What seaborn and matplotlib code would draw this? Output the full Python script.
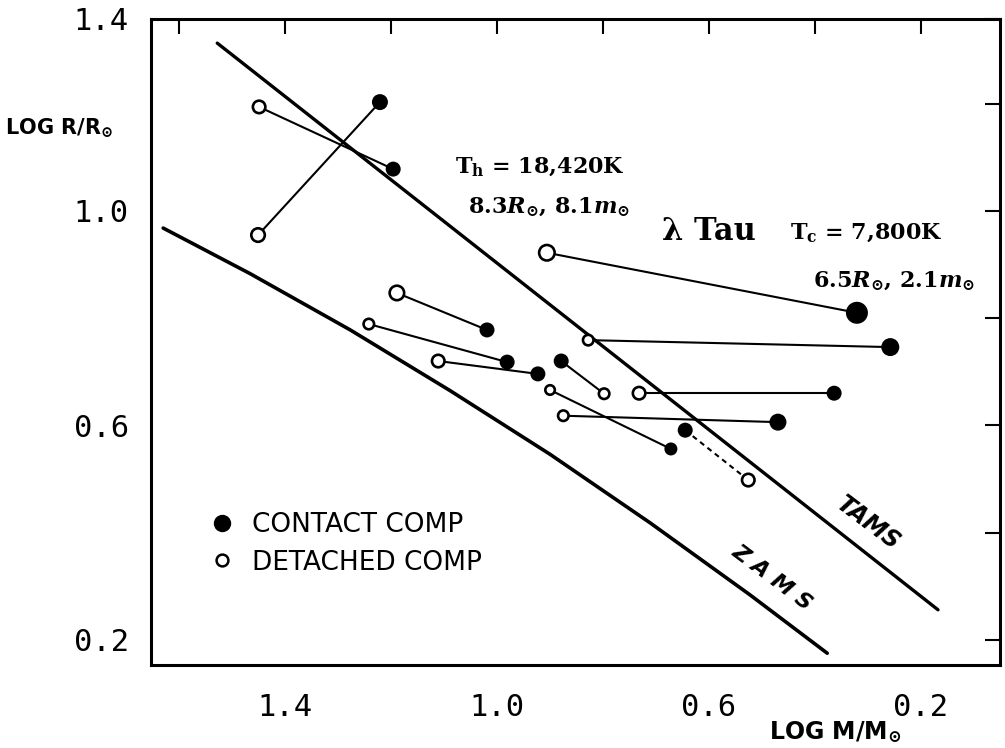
import matplotlib
matplotlib.use("Agg")
import matplotlib.pyplot as plt
from matplotlib.lines import Line2D
import numpy as np
import pandas as pd
import seaborn as sns

# ---------------- data ----------------
detached_logm = [1.449, 1.451, 0.906, 0.828, 0.732, 0.875, 0.900, 0.798, 0.526, 1.189, 1.242, 1.111]
detached_logr = [1.194, 0.955, 0.922, 0.759, 0.660, 0.618, 0.666, 0.659, 0.498, 0.847, 0.789, 0.720]
contact_logm = [1.196, 1.221, 0.321, 0.258, 0.364, 0.470, 0.672, 0.879, 0.645, 1.019, 0.981, 0.923]
contact_logr = [1.078, 1.203, 0.810, 0.746, 0.660, 0.606, 0.556, 0.720, 0.591, 0.778, 0.718, 0.696]
pair_kind = ["solid"] * 8 + ["dashed"] + ["solid"] * 3

zams_logm = [1.630, 1.466, 1.277, 1.089, 0.900, 0.711, 0.523, 0.377]
zams_logr = [0.968, 0.883, 0.778, 0.665, 0.546, 0.418, 0.284, 0.175]
tams_logm = [1.528, 0.168]
tams_logr = [1.313, 0.256]

xtick_values = [1.6, 1.4, 1.2, 1.0, 0.8, 0.6, 0.4, 0.2]
xtick_labels = ["", "1.4", "", "1.0", "", "0.6", "", "0.2"]
ylim = (0.153, 1.358)
ytick_values = [0.2, 0.4, 0.6, 0.8, 1.0, 1.2, ylim[1]]
ytick_labels = ["0.2", "", "0.6", "", "1.0", "", "1.4"]
xlim = (1.653, 0.051)

# ---------------- styles ----------------
contact_px = [15, 16, 22, 18, 15, 17, 13, 15, 15, 15, 15, 15]
detached_px = [15, 16, 18, 13, 15, 13, 12, 13, 15, 17, 13, 15]

sns.set_style("white")
plt.rcParams["mathtext.fontset"] = "custom"
plt.rcParams["mathtext.rm"] = "DejaVu Serif:bold"
plt.rcParams["mathtext.it"] = "DejaVu Serif:italic:bold"
plt.rcParams["mathtext.bf"] = "DejaVu Serif:bold"
plt.rcParams["font.family"] = ["DejaVu Sans"]
for k in ["text.color", "axes.labelcolor", "xtick.color", "ytick.color",
          "xtick.labelcolor", "ytick.labelcolor"]:
    plt.rcParams[k] = "black"

fig = plt.figure(figsize=(10.05, 7.48), dpi=100)
ax = fig.add_axes([151 / 1005, 1 - 665 / 748, (1000 - 151) / 1005, (665 - 19) / 748])

# main-sequence lines
sns.lineplot(x=zams_logm, y=zams_logr, sort=False, estimator=None, color="black",
             lw=2.6, ax=ax, legend=False)
sns.lineplot(x=tams_logm, y=tams_logr, sort=False, estimator=None, color="black",
             lw=2.4, ax=ax, legend=False)

# connecting lines
rows = []
for i in range(len(detached_logm)):
    rows.append(dict(logm=detached_logm[i], logr=detached_logr[i], pair=i, kind=pair_kind[i]))
    rows.append(dict(logm=contact_logm[i], logr=contact_logr[i], pair=i, kind=pair_kind[i]))
pairs = pd.DataFrame(rows)
sns.lineplot(data=pairs, x="logm", y="logr", units="pair", style="kind",
             dashes={"solid": "", "dashed": (2.5, 2.0)}, estimator=None, sort=False,
             color="black", lw=1.5, ax=ax, legend=False)

# markers
sns.scatterplot(x=contact_logm, y=contact_logr, s=[(p * 0.72) ** 2 for p in contact_px],
                color="black", edgecolor="black", linewidth=0, ax=ax, zorder=4, legend=False)
sns.scatterplot(x=detached_logm, y=detached_logr, s=[((p - 2.5) * 0.72) ** 2 for p in detached_px],
                facecolor="white", edgecolor="black", linewidth=1.9, ax=ax, zorder=4, legend=False)

# axes
ax.set_xlim(*xlim)
ax.set_ylim(*ylim)
ax.set_xticks(xtick_values)
ax.set_xticklabels(xtick_labels)
ax.set_yticks(ytick_values)
ax.set_yticklabels(ytick_labels)
ax.set_xlabel("")
ax.set_ylabel("")
for s in ax.spines.values():
    s.set_linewidth(2.2)
    s.set_color("black")
ax.tick_params(axis="both", direction="in", length=10.8, width=1.5, color="black",
               labelcolor="black", top=True, right=True, labelsize=22)
ax.tick_params(axis="x", pad=20)
ax.tick_params(axis="y", pad=16)
for lab in ax.get_xticklabels() + ax.get_yticklabels():
    lab.set_family("DejaVu Sans Mono")

# annotations
serif = dict(family="DejaVu Serif", fontweight="bold", color="black", va="center", ha="left")
ax.text(1.079, 1.082, r"T$_{\mathrm{h}}$ = 18,420K", fontsize=16, **serif)
ax.text(1.055, 1.007, r"8.3$R_{\odot}$, 8.1$m_{\odot}$", fontsize=16, **serif)
ax.text(0.689, 0.961, "λ Tau", fontsize=22, **serif)
ax.text(0.447, 0.959, r"T$_{\mathrm{c}}$ = 7,800K", fontsize=16, **serif)
ax.text(0.404, 0.869, r"6.5$R_{\odot}$, 2.1$m_{\odot}$", fontsize=16, **serif)

ax.text(0.300, 0.418, "TAMS", fontsize=17, fontweight="bold", style="italic", color="black",
        rotation=-37, ha="center", va="center", rotation_mode="anchor")
ax.text(0.481, 0.315, "Z A M S", fontsize=16, fontweight="bold", style="italic", color="black",
        rotation=-37, ha="center", va="center", rotation_mode="anchor")

# axis titles
fig.text(835 / 1005, 1 - 732 / 748, r"LOG M/M$_{\odot}$", fontsize=17, fontweight="bold",
         color="black", ha="center", va="center")
fig.text(5 / 1005, 1 - 128 / 748, r"LOG R/R$_{\odot}$", fontsize=15, fontweight="bold",
         color="black", ha="left", va="center")

# legend
handles = [
    Line2D([], [], marker="o", ls="", mfc="black", mec="black", ms=11.5),
    Line2D([], [], marker="o", ls="", mfc="white", mec="black", ms=8.5, mew=1.8),
]
leg = fig.legend(handles, ["CONTACT COMP", "DETACHED COMP"], loc="center left",
                 bbox_to_anchor=(211 / 1005, 1 - 544 / 748), frameon=False,
                 fontsize=19, handlelength=0.8, handletextpad=0.75, labelspacing=0.42,
                 borderpad=0, borderaxespad=0, labelcolor="black")

fig.savefig("out.png", dpi=100)
